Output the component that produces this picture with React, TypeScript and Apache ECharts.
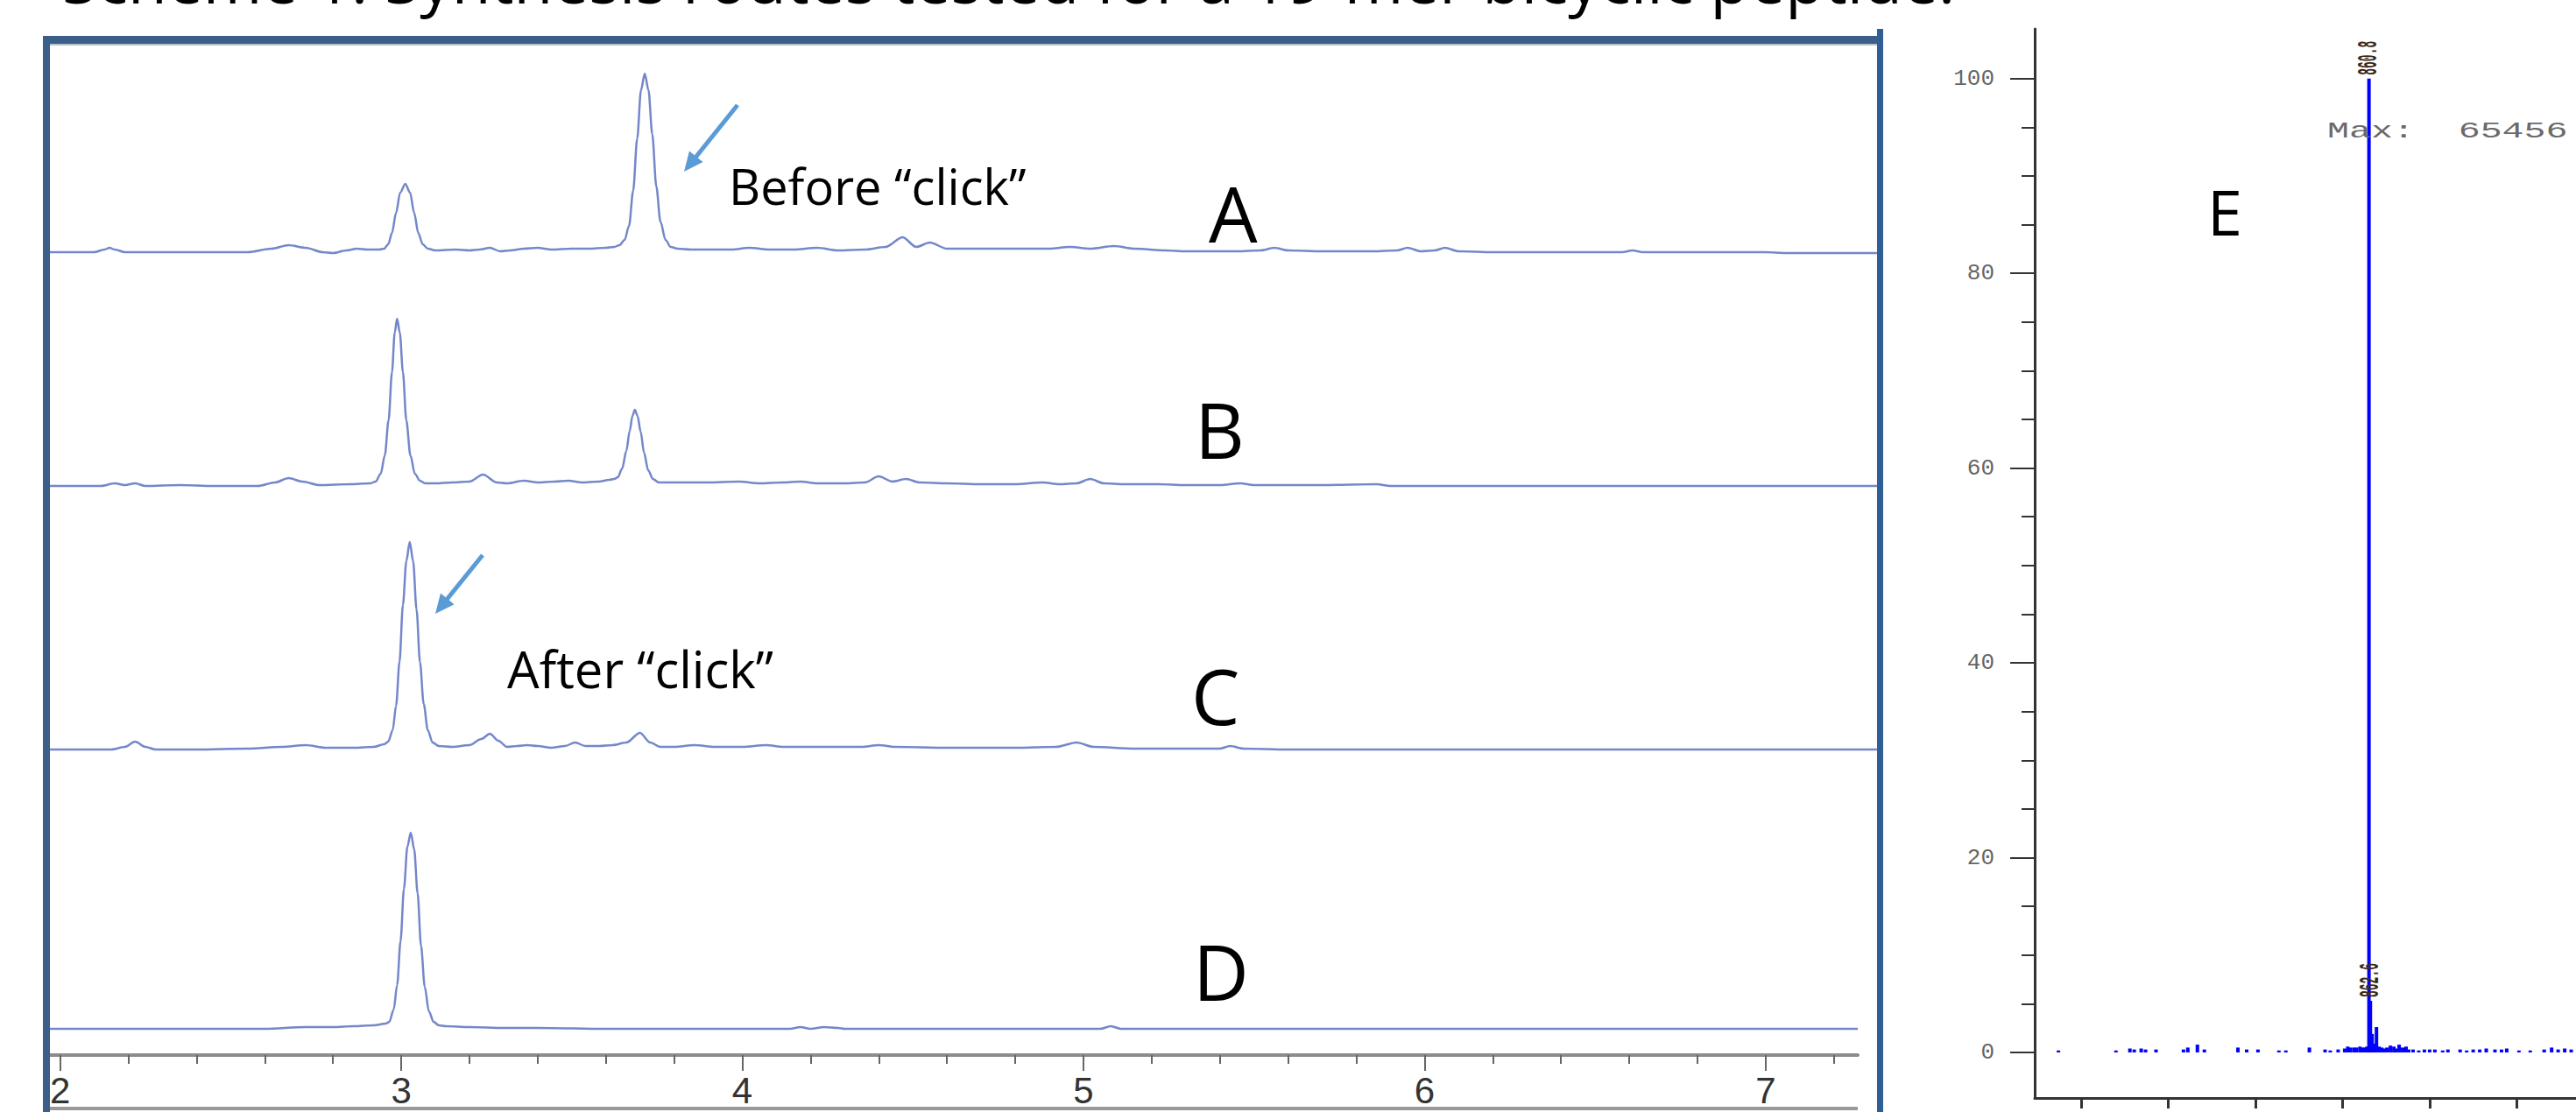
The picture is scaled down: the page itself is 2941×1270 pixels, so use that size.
import React, { useEffect, useRef } from "react";
import * as echarts from "echarts";

// ---------- Data ----------
const TITLE = "Scheme 1. Synthesis routes tested for a 19-mer bicyclic peptide.";

const TIME_TICKS = [2, 3, 4, 5, 6, 7];
const TIME_MINOR_TICKS = [2.2, 2.4, 2.6, 2.8, 3.2, 3.4, 3.6, 3.8, 4.2, 4.4, 4.6, 4.8, 5.2, 5.4, 5.6, 5.8, 6.2, 6.4, 6.6, 6.8, 7.2];

// HPLC traces: [retention time (min), signal above own baseline]
const TRACE_A: [number, number][] = [
  [1.965, 0], [2.1, 0], [2.13, 3], [2.145, 5], [2.16, 3], [2.19, 0], [2.4, 0], [2.55, 0], [2.62, 4], [2.67, 8], [2.72, 5], [2.77, 0], [2.8, -1], [2.84, 2], [2.87, 4], [2.9, 3], [2.935, 3],
  [2.95, 4], [2.962, 9], [2.973, 22], [2.985, 45], [2.997, 68], [3.012, 78], [3.026, 68], [3.038, 45], [3.05, 22], [3.063, 9], [3.078, 4],
  [3.1, 2], [3.16, 3], [3.2, 2], [3.23, 3], [3.26, 5], [3.29, 1], [3.32, 2], [3.36, 4], [3.4, 5], [3.44, 3], [3.5, 4], [3.55, 4], [3.6, 5], [3.625, 6],
  [3.64, 8], [3.655, 14], [3.668, 30], [3.68, 70], [3.692, 130], [3.703, 185], [3.714, 204], [3.725, 185], [3.736, 135], [3.748, 75], [3.76, 35], [3.775, 14], [3.79, 6], [3.81, 4],
  [3.85, 3], [3.92, 3], [3.97, 3], [4.02, 5], [4.08, 3], [4.15, 3], [4.22, 5], [4.28, 2], [4.36, 3], [4.42, 6], [4.47, 17], [4.51, 6], [4.55, 11], [4.6, 4], [4.7, 4], [4.8, 4], [4.9, 4],
  [4.96, 6], [5.02, 4], [5.09, 7], [5.15, 4], [5.24, 2], [5.3, 1], [5.45, 1], [5.52, 2], [5.56, 5], [5.6, 2], [5.7, 1], [5.85, 1], [5.92, 2], [5.95, 5], [5.99, 1], [6.03, 2], [6.06, 5],
  [6.1, 1], [6.2, 0], [6.4, 0], [6.58, 0], [6.61, 2], [6.64, 0], [6.8, 0], [7.0, 0], [7.06, -1], [7.2, -1], [7.332, -1],
];
const TRACE_B: [number, number][] = [
  [1.965, 0], [2.12, 0], [2.16, 3], [2.19, 1], [2.22, 3], [2.25, 0], [2.35, 1], [2.45, 0], [2.58, 0], [2.63, 4], [2.67, 9], [2.71, 5], [2.76, 1], [2.85, 2], [2.91, 3],
  [2.925, 5], [2.94, 14], [2.952, 35], [2.963, 75], [2.973, 130], [2.981, 175], [2.988, 191], [2.996, 175], [3.005, 130], [3.015, 75], [3.027, 35], [3.04, 14], [3.055, 6], [3.07, 3],
  [3.1, 3], [3.15, 4], [3.2, 5], [3.24, 13], [3.28, 4], [3.31, 3], [3.36, 6], [3.4, 4], [3.45, 5], [3.49, 6], [3.53, 4], [3.58, 5], [3.61, 7], [3.625, 8],
  [3.635, 10], [3.648, 20], [3.66, 40], [3.67, 63], [3.678, 80], [3.685, 87], [3.693, 80], [3.702, 62], [3.712, 38], [3.724, 18], [3.738, 8], [3.755, 4],
  [3.8, 4], [3.9, 4], [3.99, 5], [4.05, 3], [4.12, 4], [4.17, 5], [4.22, 3], [4.3, 3], [4.36, 4], [4.4, 11], [4.44, 5], [4.48, 8], [4.52, 4], [4.6, 3], [4.7, 2], [4.8, 2],
  [4.88, 4], [4.93, 2], [4.98, 3], [5.02, 8], [5.06, 3], [5.12, 2], [5.22, 2], [5.3, 1], [5.4, 1], [5.46, 3], [5.5, 1], [5.7, 1], [5.86, 2], [5.9, 0], [6.0, 0], [6.3, 0], [6.8, 0], [7.332, 0],
];
const TRACE_C: [number, number][] = [
  [1.965, 0], [2.15, 0], [2.19, 3], [2.22, 9], [2.25, 3], [2.28, 0], [2.4, 0], [2.55, 1], [2.65, 3], [2.72, 5], [2.78, 2], [2.86, 2], [2.92, 3], [2.95, 6],
  [2.962, 9], [2.975, 22], [2.985, 50], [2.995, 100], [3.005, 165], [3.015, 215], [3.025, 237], [3.035, 215], [3.045, 160], [3.055, 100], [3.066, 52], [3.078, 22], [3.092, 8], [3.11, 4],
  [3.15, 3], [3.2, 5], [3.235, 12], [3.26, 18], [3.285, 10], [3.31, 3], [3.34, 4], [3.37, 5], [3.4, 4], [3.44, 2], [3.48, 4], [3.51, 8], [3.54, 4], [3.58, 4], [3.62, 5], [3.66, 8],
  [3.7, 19], [3.73, 8], [3.76, 3], [3.8, 3], [3.86, 5], [3.92, 3], [4.0, 3], [4.07, 5], [4.12, 3], [4.25, 3], [4.35, 3], [4.4, 5], [4.45, 3], [4.6, 2], [4.8, 2], [4.92, 3], [4.98, 8],
  [5.03, 3], [5.15, 1], [5.3, 1], [5.4, 1], [5.43, 4], [5.47, 1], [5.6, 0], [6.0, 0], [7.332, 0],
];
const TRACE_D: [number, number][] = [
  [1.965, 0], [2.6, 0], [2.72, 2], [2.8, 2], [2.86, 3], [2.92, 4], [2.955, 6],
  [2.965, 8], [2.978, 22], [2.988, 50], [2.998, 100], [3.008, 160], [3.018, 208], [3.028, 224], [3.038, 205], [3.048, 155], [3.058, 95], [3.069, 48], [3.081, 20], [3.095, 8], [3.11, 4],
  [3.13, 3], [3.2, 2], [3.3, 1], [3.4, 1], [3.6, 0], [4.14, 0], [4.17, 2], [4.2, 0], [4.24, 2], [4.28, 1], [4.3, 0], [5.05, 0], [5.08, 3], [5.11, 0], [7.27, 0],
];
const TRACE_LABELS = ["A", "B", "C", "D"];

// Mass spectrum (E)
const MZ_TICKS = [200, 400, 600, 800, 1000, 1200];
const INTENSITY_TICKS = [0, 20, 40, 60, 80, 100];
const INTENSITY_MINOR = [5, 10, 15, 25, 30, 35, 45, 50, 55, 65, 70, 75, 85, 90, 95];
const SPEC_MZ = [148, 280, 312, 322, 338, 348, 372, 435, 445, 467, 483, 560, 580, 606, 654, 670, 724, 760, 772, 790, 805, 812, 818, 826, 832, 840, 846, 851, 856,
  860.8, 864, 868, 873, 878, 884, 890, 896, 902, 910, 918, 922, 930, 938, 946, 952, 962, 975, 988, 1000, 1012, 1030, 1042, 1070, 1085, 1100, 1115, 1130, 1150, 1165, 1177,
  1205, 1231, 1263, 1280, 1295, 1310, 1325];
const SPEC_INT = [0.2, 0.2, 0.4, 0.3, 0.4, 0.3, 0.3, 0.3, 0.5, 0.8, 0.3, 0.5, 0.3, 0.3, 0.2, 0.2, 0.5, 0.3, 0.2, 0.3, 0.4, 0.6, 0.5, 0.5, 0.5, 0.6, 0.5, 0.5, 0.6,
  100, 5.3, 1.9, 0.9, 2.6, 0.6, 0.5, 0.4, 0.5, 0.7, 0.6, 0.4, 0.8, 0.5, 0.6, 0.3, 0.3, 0.2, 0.3, 0.3, 0.3, 0.2, 0.3, 0.3, 0.2, 0.3, 0.3, 0.4, 0.3, 0.3, 0.4,
  0.2, 0.2, 0.3, 0.5, 0.3, 0.4, 0.3];
const PEAK_LABELS = [
  { mz: 860.8, text: "860.8" },
  { mz: 864, text: "862.6" },
];
const MAX_TEXT = "Max:  65456";

// ---------- Layout ----------
const W = 2941;
const H = 1270;
const TRACE_BASELINES = [288, 555, 856, 1175];
const LEFT_X0 = 55;
const AXIS_Y = 1205;
const TRACE_COLOR = "#7487c9";
const FRAME_COLOR = "#3c5f8a";
const ARROW_COLOR = "#5b9bd5";
const SANS = '"Open Sans", "Noto Sans", sans-serif';
const MONO = '"Liberation Mono", monospace';

export default function App() {
  const ref = useRef<HTMLDivElement>(null);

  useEffect(() => {
    document.body.style.margin = "0";
    document.body.style.overflow = "hidden";
    if (!ref.current) return;
    const chart = echarts.init(ref.current, null, { renderer: "svg" });

    const traces = [TRACE_A, TRACE_B, TRACE_C, TRACE_D];
    const grids: any[] = [];
    const xAxes: any[] = [];
    const yAxes: any[] = [];
    const series: any[] = [];

    traces.forEach((tr, i) => {
      const isBottom = i === 3;
      const base = TRACE_BASELINES[i];
      const below = isBottom ? AXIS_Y - base : 20;
      grids.push({
        left: LEFT_X0,
        top: base - 280,
        width: isBottom ? 2066 : 2090,
        height: 280 + below,
        containLabel: false,
      });
      yAxes.push({ gridIndex: i, type: "value", min: -below, max: 280, show: false });
      if (isBottom) {
        xAxes.push({
          gridIndex: i,
          type: "value",
          min: 1.965,
          max: 7.27,
          position: "bottom",
          axisLine: { show: true, onZero: false, lineStyle: { color: "#8c8c8c", width: 4 } },
          axisTick: { show: true, customValues: TIME_TICKS, length: 18, lineStyle: { color: "#666", width: 2 } },
          axisLabel: {
            show: true,
            customValues: TIME_TICKS,
            margin: 19,
            fontSize: 42,
            fontFamily: '"Liberation Sans", Arial, sans-serif',
            color: "#333",
          },
          splitLine: { show: false },
        });
      } else {
        xAxes.push({ gridIndex: i, type: "value", min: 1.965, max: 7.332, show: false });
      }
      series.push({
        type: "line",
        name: TRACE_LABELS[i],
        xAxisIndex: i,
        yAxisIndex: i,
        data: tr,
        showSymbol: false,
        smooth: 0.3,
        smoothMonotone: "x",
        lineStyle: { color: TRACE_COLOR, width: 2.5 },
        silent: true,
      });
    });

    // minor ticks for time axis
    xAxes.push({
      gridIndex: 3,
      type: "value",
      min: 1.965,
      max: 7.27,
      position: "bottom",
      axisLine: { show: false, onZero: false },
      axisTick: { show: true, customValues: TIME_MINOR_TICKS, length: 10, lineStyle: { color: "#666", width: 2 } },
      axisLabel: { show: false },
      splitLine: { show: false },
    });

    // mass spectrum grid
    const specGrid = grids.length;
    grids.push({ left: 2323, top: 33, width: W - 2323, height: 1221 });
    const specX = xAxes.length;
    xAxes.push({
      gridIndex: specGrid,
      type: "value",
      min: 93.5,
      max: 1336,
      position: "bottom",
      axisLine: { show: true, onZero: false, lineStyle: { color: "#333", width: 3 } },
      axisTick: { show: true, customValues: MZ_TICKS, length: 12, lineStyle: { color: "#333", width: 3 } },
      axisLabel: { show: false },
      splitLine: { show: false },
    });
    const specY = yAxes.length;
    yAxes.push({
      gridIndex: specGrid,
      type: "value",
      min: -4.68,
      max: 105.1,
      position: "left",
      axisLine: { show: true, onZero: false, lineStyle: { color: "#333", width: 3 } },
      axisTick: { show: true, customValues: INTENSITY_TICKS, length: 28, lineStyle: { color: "#333", width: 2 } },
      axisLabel: {
        show: true,
        customValues: INTENSITY_TICKS,
        margin: 46,
        fontSize: 26,
        fontFamily: MONO,
        color: "#666",
      },
      splitLine: { show: false },
    });
    yAxes.push({
      gridIndex: specGrid,
      type: "value",
      min: -4.68,
      max: 105.1,
      position: "left",
      axisLine: { show: false, onZero: false },
      axisTick: { show: true, customValues: INTENSITY_MINOR, length: 15, lineStyle: { color: "#333", width: 2 } },
      axisLabel: { show: false },
      splitLine: { show: false },
    });

    series.push({
      type: "bar",
      xAxisIndex: specX,
      yAxisIndex: specY,
      data: SPEC_MZ.map((mz, i) => [mz, SPEC_INT[i]]),
      barWidth: 4,
      itemStyle: { color: "#0000ff" },
      silent: true,
    });

    const txt = (text: string, x: number, y: number, size: number, extra: any = {}) => ({
      type: "text",
      x,
      y,
      z: 10,
      silent: true,
      style: {
        text,
        fill: "#000",
        fontSize: size,
        fontFamily: SANS,
        align: "left",
        textAlign: "left",
        verticalAlign: "middle",
        textVerticalAlign: "middle",
        ...extra,
      },
    });

    const arrow = (x1: number, y1: number, x2: number, y2: number) => {
      const dx = x2 - x1;
      const dy = y2 - y1;
      const len = Math.sqrt(dx * dx + dy * dy);
      const ux = dx / len;
      const uy = dy / len;
      const hl = 22;
      const hw = 10;
      const bx = x2 - ux * hl;
      const by = y2 - uy * hl;
      return [
        { type: "line", z: 10, silent: true, shape: { x1, y1, x2: bx + ux * 4, y2: by + uy * 4 }, style: { stroke: ARROW_COLOR, lineWidth: 5 } },
        {
          type: "polygon",
          z: 10,
          silent: true,
          shape: { points: [[x2, y2], [bx - uy * hw, by + ux * hw], [bx + uy * hw, by - ux * hw]] },
          style: { fill: ARROW_COLOR },
        },
      ];
    };

    const graphic: any[] = [
      txt(TITLE, 71, -25, 73),
      // frame of HPLC panel
      { type: "rect", z: 5, silent: true, shape: { x: 49, y: 41, width: 2100, height: 9 }, style: { fill: FRAME_COLOR } },
      { type: "rect", z: 5, silent: true, shape: { x: 49, y: 50, width: 2094, height: 2 }, style: { fill: "#b4c2d4" } },
      { type: "rect", z: 5, silent: true, shape: { x: 49, y: 41, width: 8, height: H - 41 }, style: { fill: FRAME_COLOR } },
      { type: "rect", z: 5, silent: true, shape: { x: 2143, y: 33, width: 7, height: H - 33 }, style: { fill: "#2f5f94" } },
      { type: "line", z: 4, silent: true, shape: { x1: LEFT_X0, y1: 1266, x2: 2121, y2: 1266 }, style: { stroke: "#999", lineWidth: 4 } },
      ...arrow(842, 120, 781, 196),
      ...arrow(551, 634, 497, 701),
      txt("Before \u201cclick\u201d", 832, 212, 56),
      txt("After \u201cclick\u201d", 579, 763, 58),
      txt(TRACE_LABELS[0], 1380, 243, 88),
      txt(TRACE_LABELS[1], 1364, 490, 88),
      txt(TRACE_LABELS[2], 1360, 794, 88),
      txt(TRACE_LABELS[3], 1362, 1109, 88),
      txt("E", 2520, 241, 72),
      {
        type: "text",
        x: 2657,
        y: 150,
        z: 10,
        scaleX: 1.6,
        silent: true,
        style: {
          text: MAX_TEXT,
          fill: "#6a6a6a",
          fontSize: 26,
          fontFamily: MONO,
          align: "left",
          textAlign: "left",
          verticalAlign: "middle",
          textVerticalAlign: "middle",
        },
      },
    ];

    chart.setOption({
      animation: false,
      backgroundColor: "#ffffff",
      grid: grids,
      xAxis: xAxes,
      yAxis: yAxes,
      series,
      graphic,
    });

    // rotated peak labels anchored to bar tops through the axis scales
    const peakTexts = PEAK_LABELS.map((p) => {
      const idx = SPEC_MZ.indexOf(p.mz);
      const pt = chart.convertToPixel({ xAxisIndex: specX, yAxisIndex: specY } as any, [p.mz, SPEC_INT[idx]]) as number[];
      return {
        type: "text",
        x: pt[0],
        y: pt[1] - 4,
        rotation: Math.PI / 2,
        scaleX: 0.65,
        scaleY: 1.6,
        z: 10,
        silent: true,
        style: {
          text: p.text,
          fill: "#3a2a1a",
          fontSize: 20,
          fontWeight: "bold",
          fontFamily: MONO,
          align: "left",
          textAlign: "left",
          verticalAlign: "middle",
          textVerticalAlign: "middle",
        },
      };
    });
    chart.setOption({ graphic: [...graphic, ...peakTexts] });

    return () => chart.dispose();
  }, []);

  return <div ref={ref} style={{ width: W, height: H }} />;
}
